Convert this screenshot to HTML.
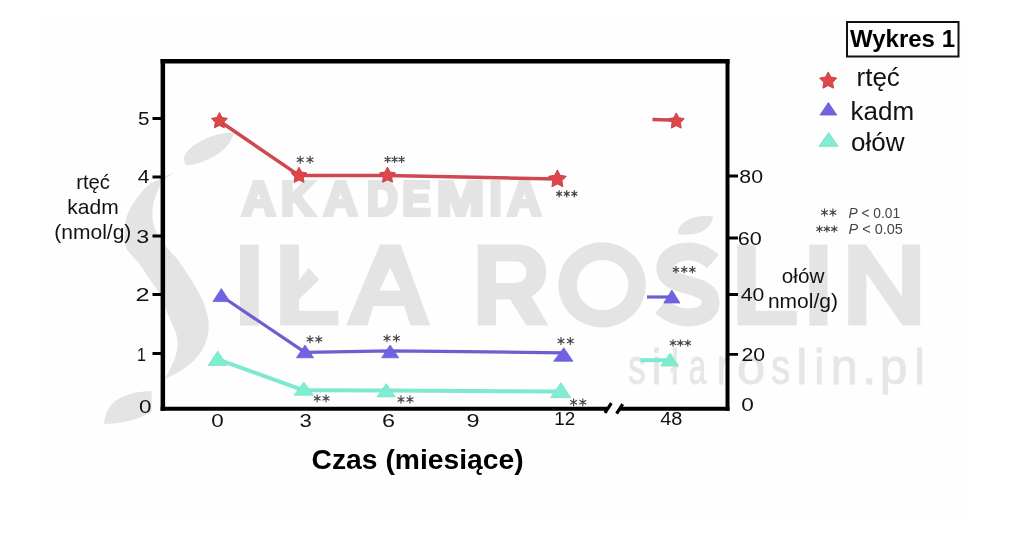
<!DOCTYPE html>
<html><head><meta charset="utf-8">
<style>
html,body{margin:0;padding:0;background:#fff;}
body{width:1024px;height:556px;overflow:hidden;font-family:"Liberation Sans",sans-serif;}
svg{display:block;}
text{font-family:"Liberation Sans",sans-serif;}
</style></head><body>
<svg width="1024" height="556" viewBox="0 0 1024 556">
<defs><filter id="nf" filterUnits="userSpaceOnUse" x="0" y="0" width="1024" height="556" color-interpolation-filters="sRGB"><feGaussianBlur stdDeviation="0.55"/></filter></defs>
<g filter="url(#nf)">
<rect width="1024" height="556" fill="#fff"/>
<rect x="41" y="21" width="922" height="498" fill="#fefefe"/>
<!-- watermark -->
<g id="wm" fill="#e4e4e4">
  <path d="M233.4,133.0 C231.6,133.1 226.9,132.6 222.5,133.4 C218.1,134.2 212.2,135.7 207.0,138.0 C201.8,140.3 194.8,144.3 191.0,147.5 C187.2,150.7 185.1,154.0 184.2,157.0 C183.3,160.0 185.5,164.1 185.8,165.5 C188.0,165.1 194.2,164.6 199.0,163.0 C203.8,161.4 210.0,158.8 214.7,156.0 C219.4,153.2 224.0,149.2 227.0,146.0 C230.0,142.8 231.6,138.8 232.7,136.6 C233.8,134.4 233.3,133.6 233.4,133.0 Z"/>
  <path d="M175.0,172.0 C172.8,173.0 166.7,175.6 162.0,178.0 C157.3,180.4 152.2,181.8 147.0,186.6 C141.8,191.4 134.7,200.5 131.0,207.0 C127.3,213.5 125.9,218.9 125.0,225.6 C124.1,232.3 123.5,240.7 125.8,247.0 C128.1,253.3 134.7,257.6 139.0,263.4 C143.3,269.2 148.1,276.8 151.6,282.0 C155.1,287.2 157.4,289.7 160.0,294.7 C162.6,299.7 164.8,306.6 167.0,312.0 C169.2,317.4 171.8,323.1 173.4,327.0 C175.0,330.9 175.9,332.1 176.6,335.6 C177.2,339.1 177.8,343.6 177.3,348.0 C176.8,352.4 175.5,356.9 173.4,362.0 C171.3,367.1 166.4,375.8 165.0,378.5 C166.7,377.8 171.0,376.2 175.0,374.0 C179.0,371.8 184.6,368.8 189.0,365.0 C193.4,361.2 198.5,355.9 201.6,351.0 C204.7,346.1 206.6,340.4 207.8,335.6 C209.0,330.8 208.7,325.7 208.6,322.0 C208.5,318.3 208.2,317.4 207.0,313.4 C205.8,309.4 204.2,303.7 201.5,298.0 C198.8,292.3 194.5,285.3 190.6,279.0 C186.7,272.7 182.2,265.5 178.0,260.0 C173.8,254.5 169.3,250.9 165.6,246.0 C161.8,241.1 157.7,235.5 155.5,230.3 C153.3,225.1 152.4,219.9 152.3,214.7 C152.2,209.5 153.0,204.4 154.7,199.0 C156.4,193.6 159.1,186.5 162.5,182.0 C165.9,177.5 172.9,173.7 175.0,172.0 Z"/>
  <path d="M104,424 C105,410 112,402 122,397 C131,393 141,391 151.6,391 L151.6,412 C140,419 122,424 104,424 Z"/>
  <g font-weight="bold" stroke="#e4e4e4" stroke-width="4" stroke-linejoin="miter">
<text transform="translate(241.69,215.3) scale(0.958,1)" font-size="48.7" >A</text>
<text transform="translate(280.90,215.3) scale(0.955,1)" font-size="48.7" >K</text>
<text transform="translate(323.69,215.3) scale(0.958,1)" font-size="48.7" >A</text>
<text transform="translate(366.88,215.3) scale(0.877,1)" font-size="48.7" >D</text>
<text transform="translate(402.29,215.3) scale(0.874,1)" font-size="48.7" >E</text>
<text transform="translate(436.78,215.3) scale(1.167,1)" font-size="48.7" >M</text>
<text transform="translate(489.56,215.3) scale(0.904,1)" font-size="48.7" >I</text>
<text transform="translate(507.59,215.3) scale(0.958,1)" font-size="48.7" >A</text>
  </g>
  <rect x="240" y="244.6" width="18.8" height="81.00000000000003"/>
  <path d="M280.2,244.6 H298.9 V280.5 L308.5,268 L319.3,279.5 L298.9,299.5 V310.8 H338.4 V325.6 H280.2 Z"/>
  <path fill-rule="evenodd" d="M346,325.6 L380,244.6 L400.6,244.6 L430.2,325.6 L410.3,325.6 L404.2,306 L373.5,306 L367.4,325.6 Z M390.2,267.5 L400.6,290.4 L379.6,290.4 Z"/>
  <path fill-rule="evenodd" d="M477.7,244.6 H519.5 A27.5,27.5 0 0 1 531.5,296.5 L548.5,325.6 H526.5 L510,299.5 H495.9 V325.6 H477.7 Z M495.9,261.4 H515.7 A10.8,10.8 0 0 1 515.7,283 H495.9 Z"/>
  <path fill-rule="evenodd" d="M558.3,284.9 a43.8,42.5 0 1 0 87.6,0 a43.8,42.5 0 1 0 -87.6,0 Z M576.8,285 a25.8,25.1 0 1 0 51.6,0 a25.8,25.1 0 1 0 -51.6,0 Z"/>
  <path d="M713,216.5 C694,214 677,222 678,234 C696,237 712,230 713,216.5 Z"/>
  <path d="M737.4,244.6 H755.7 V310.8 H796.7 V325.6 H737.4 Z"/>
  <rect x="809.3" y="244.6" width="18.2" height="81.00000000000003"/>
  <path d="M848.2,325.6 V244.6 H866 L902,296.5 V244.6 H920.2 V325.6 H902.6 L866.4,273.5 V325.6 Z"/>
</g>
<path d="M713,261.5 C705,254.5 697,251.6 689,251.6 C674,251.6 665.3,258.5 665.3,268 C665.3,278 674,281.3 688,285 C702,288.7 710.6,292.5 710.6,302 C710.6,311.5 702,317.4 688,317.4 C677.5,317.4 669,313.5 661,306.5" fill="none" stroke="#e4e4e4" stroke-width="18"/>
<g fill="#e6e6e6" stroke="#e6e6e6" stroke-width="0.9">
<text transform="translate(628.37,384.2) scale(0.703,1)" font-size="49.5" >s</text>
<text transform="translate(651.71,384.2) scale(0.866,1)" font-size="49.5" >i</text>
<text transform="translate(670.83,384.2) scale(0.725,1)" font-size="49.5" >ł</text>
<text transform="translate(688.81,384.2) scale(0.632,1)" font-size="49.5" >a</text>
<text transform="translate(716.97,384.2) scale(0.769,1)" font-size="49.5" >r</text>
<text transform="translate(736.88,384.2) scale(1.025,1)" font-size="49.5" >o</text>
<text transform="translate(771.35,384.2) scale(0.767,1)" font-size="49.5" >s</text>
<text transform="translate(796.42,384.2) scale(0.975,1)" font-size="49.5" >l</text>
<text transform="translate(814.21,384.2) scale(0.902,1)" font-size="49.5" >i</text>
<text transform="translate(830.73,384.2) scale(0.971,1)" font-size="49.5" >n</text>
<text transform="translate(861.97,384.2) scale(1.061,1)" font-size="49.5" >.</text>
<text transform="translate(879.84,384.2) scale(1.007,1)" font-size="49.5" >p</text>
<text transform="translate(914.32,384.2) scale(0.975,1)" font-size="49.5" >l</text>
</g>

<!-- axes -->
<g stroke="#000" fill="none" stroke-linecap="butt" stroke-linejoin="miter">
  <path d="M607,408.8 H160.6" stroke-width="4"/>
  <path d="M162.85,410.7 V58.9" stroke-width="4.5"/>
  <path d="M160.6,61.15 H729.5" stroke-width="4.5"/>
  <path d="M727.5,58.9 V410.7" stroke-width="4"/>
  <path d="M729.5,408.8 H620" stroke-width="4"/>
</g>
<g stroke="#000" stroke-width="3" fill="none">
  <path d="M604.9,412.9 L611.4,403.2 M616.6,413.7 L622.7,404.2" stroke-width="3.2"/>
  <path d="M152.5,118.5H162 M152.5,177H162 M152.5,236H162 M152.5,294.5H162 M152.5,353.6H162"/>
  <path d="M729,176H738 M729,238H738 M729,294.5H738 M729,354.3H738" stroke-width="2.8"/>
</g>

<!-- tick labels -->
<g fill="#111">
  <text transform="translate(137.95,124.6) scale(1.116,1)" font-size="18.5" >5</text>
  <text transform="translate(137.67,183.4) scale(1.143,1)" font-size="18.5" >4</text>
  <text transform="translate(136.27,242.5) scale(1.261,1)" font-size="18.5" >3</text>
  <text transform="translate(135.51,300.8) scale(1.372,1)" font-size="18.5" >2</text>
  <text transform="translate(136.99,360.8) scale(0.871,1)" font-size="18.5" >1</text>
  <text transform="translate(139.10,413) scale(1.211,1)" font-size="18.5" >0</text>
  <text transform="translate(211.30,427) scale(1.211,1)" font-size="18.5" >0</text>
  <text transform="translate(299.61,427) scale(1.194,1)" font-size="18.5" >3</text>
  <text transform="translate(382.10,427) scale(1.268,1)" font-size="18.5" >6</text>
  <text transform="translate(466.40,427) scale(1.268,1)" font-size="18.5" >9</text>
  <text transform="translate(554.32,425.2) scale(1.018,1)" font-size="18.5" >12</text>
  <text transform="translate(660.19,425.2) scale(1.075,1)" font-size="18.5" >48</text>
  <text transform="translate(739.33,183.2) scale(1.152,1)" font-size="18.5" >80</text>
  <text transform="translate(737.79,245.3) scale(1.169,1)" font-size="18.5" >60</text>
  <text transform="translate(740.67,301) scale(1.145,1)" font-size="18.5" >40</text>
  <text transform="translate(741.50,360.6) scale(1.148,1)" font-size="18.5" >20</text>
  <text transform="translate(741.29,411) scale(1.222,1)" font-size="18.5" >0</text>
</g>

<!-- axis labels -->
<g fill="#111" text-anchor="middle">
  <text x="93.1" y="188.8" font-size="20.3">rtęć</text>
  <text x="93" y="213.8" font-size="21">kadm</text>
  <text x="92.8" y="238.8" font-size="21">(nmol/g)</text>
  <text x="803.1" y="282.5" font-size="20.7">ołów</text>
  <text x="802.9" y="307.5" font-size="21">nmol/g)</text>
</g>
<text x="311.6" y="469" font-size="27" font-weight="bold" fill="#000" textLength="212" lengthAdjust="spacingAndGlyphs">Czas (miesiące)</text>

<!-- series -->
<defs>
  <path id="star" d="M0.00,-8.40 L2.59,-3.56 L7.99,-2.60 L4.18,1.36 L4.94,6.80 L0.00,4.40 L-4.94,6.80 L-4.18,1.36 L-7.99,-2.60 L-2.59,-3.56 Z" stroke-width="1" stroke-linejoin="round"/>
  <path id="starB" d="M0.00,-9.30 L2.82,-3.88 L8.84,-2.87 L4.57,1.48 L5.47,7.52 L0.00,4.80 L-5.47,7.52 L-4.57,1.48 L-8.84,-2.87 L-2.82,-3.88 Z" stroke-width="1" stroke-linejoin="round"/>
  <path id="starL" d="M0.00,-9.00 L2.76,-3.80 L8.56,-2.78 L4.47,1.45 L5.29,7.28 L0.00,4.70 L-5.29,7.28 L-4.47,1.45 L-8.56,-2.78 L-2.76,-3.80 Z" stroke-width="1" stroke-linejoin="round"/>
</defs>
<g stroke="#cf4750" stroke-width="3.5" fill="none" stroke-linejoin="round">
  <path d="M219.4,121 L299,175.4 L387.5,175.4 L557.4,179"/>
  <path d="M652.5,119.6 L676,120.2"/>
</g>
<g fill="#e04648" stroke="#c4454e">
  <use href="#star" x="219.4" y="121"/><use href="#star" x="299" y="175.6"/><use href="#star" x="387.5" y="175.5"/><use href="#starB" x="557.4" y="179.2"/><use href="#star" x="676.25" y="121.3"/>
</g>
<g stroke="#6c5fd0" stroke-width="3.2" fill="none" stroke-linejoin="round">
  <path d="M221.3,296 L305,352.4 L390.2,350.8 L563.7,352.8"/>
  <path d="M647,297 L672,297"/>
</g>
<g fill="#6f63e4" stroke="#6459cc" stroke-width="0.7">
  <path d="M221.35000000000002,288.6 L229.8,301.6 L212.9,301.6 Z"/>
  <path d="M305.0,345 L313.6,357.8 L296.4,357.8 Z"/>
  <path d="M390.175,345 L398.75,357.8 L381.6,357.8 Z"/>
  <path d="M563.75,347.7 L573,361.25 L553.6,361.25 Z"/>
  <path d="M671.875,290 L680,303 L663.75,303 Z"/>
</g>
<g stroke="#7de9ce" stroke-width="4" fill="none" stroke-linejoin="round">
  <path d="M218,359.3 L303.75,390.3 L386.25,390.6 L561,391.5"/>
  <path d="M640.5,360.2 L670,360.2"/>
</g>
<g fill="#7deed2" stroke="#84dcc6" stroke-width="0.7">
  <path d="M217.8,351 L227,365.5 L208,365.5 Z"/>
  <path d="M303.75,382 L313.6,395.3 L294,395.3 Z"/>
  <path d="M386.25,383.6 L395.6,396.9 L376.9,396.9 Z"/>
  <path d="M561,382.5 L570.8,397.7 L550.5,397.7 Z"/>
  <path d="M670.3,353 L678,366 L660.6,366 Z"/>
</g>

<!-- asterisks -->
<g stroke="#444" fill="none" stroke-linecap="butt">
<path d="M300.2,155.7 V163.7 M296.74,157.70 L303.66,161.70 M296.74,161.70 L303.66,157.70" stroke-width="1.15"/>
<path d="M310.0,155.7 V163.7 M306.54,157.70 L313.46,161.70 M306.54,161.70 L313.46,157.70" stroke-width="1.15"/>
<path d="M387.6,156.0 V163.0 M384.57,157.75 L390.63,161.25 M384.57,161.25 L390.63,157.75" stroke-width="1.15"/>
<path d="M394.6,156.0 V163.0 M391.57,157.75 L397.63,161.25 M391.57,161.25 L397.63,157.75" stroke-width="1.15"/>
<path d="M401.6,156.0 V163.0 M398.57,157.75 L404.63,161.25 M398.57,161.25 L404.63,157.75" stroke-width="1.15"/>
<path d="M559.1,190.35 V197.15 M556.16,192.05 L562.04,195.45 M556.16,195.45 L562.04,192.05" stroke-width="1.25"/>
<path d="M566.75,190.35 V197.15 M563.81,192.05 L569.69,195.45 M563.81,195.45 L569.69,192.05" stroke-width="1.25"/>
<path d="M574.4,190.35 V197.15 M571.46,192.05 L577.34,195.45 M571.46,195.45 L577.34,192.05" stroke-width="1.25"/>
<path d="M310.0,335.5 V343.29999999999995 M306.62,337.45 L313.38,341.35 M306.62,341.35 L313.38,337.45" stroke-width="1.15"/>
<path d="M318.75,335.5 V343.29999999999995 M315.37,337.45 L322.13,341.35 M315.37,341.35 L322.13,337.45" stroke-width="1.15"/>
<path d="M387.0,334.40000000000003 V342.2 M383.62,336.35 L390.38,340.25 M383.62,340.25 L390.38,336.35" stroke-width="1.15"/>
<path d="M396.4,334.40000000000003 V342.2 M393.02,336.35 L399.78,340.25 M393.02,340.25 L399.78,336.35" stroke-width="1.15"/>
<path d="M561.0,337.1 V344.9 M557.62,339.05 L564.38,342.95 M557.62,342.95 L564.38,339.05" stroke-width="1.15"/>
<path d="M570.3,337.1 V344.9 M566.92,339.05 L573.68,342.95 M566.92,342.95 L573.68,339.05" stroke-width="1.15"/>
<path d="M676.0,266.09999999999997 V273.3 M672.88,267.90 L679.12,271.50 M672.88,271.50 L679.12,267.90" stroke-width="1.15"/>
<path d="M684.2,266.09999999999997 V273.3 M681.08,267.90 L687.32,271.50 M681.08,271.50 L687.32,267.90" stroke-width="1.15"/>
<path d="M692.4,266.09999999999997 V273.3 M689.28,267.90 L695.52,271.50 M689.28,271.50 L695.52,267.90" stroke-width="1.15"/>
<path d="M673.0,339.4 V346.6 M669.88,341.20 L676.12,344.80 M669.88,344.80 L676.12,341.20" stroke-width="1.15"/>
<path d="M680.4,339.4 V346.6 M677.28,341.20 L683.52,344.80 M677.28,344.80 L683.52,341.20" stroke-width="1.15"/>
<path d="M687.8,339.4 V346.6 M684.68,341.20 L690.92,344.80 M684.68,344.80 L690.92,341.20" stroke-width="1.15"/>
<path d="M317.2,394.5 V402.29999999999995 M313.82,396.45 L320.58,400.35 M313.82,400.35 L320.58,396.45" stroke-width="1.15"/>
<path d="M326.0,394.5 V402.29999999999995 M322.62,396.45 L329.38,400.35 M322.62,400.35 L329.38,396.45" stroke-width="1.15"/>
<path d="M401.0,395.6 V403.4 M397.62,397.55 L404.38,401.45 M397.62,401.45 L404.38,397.55" stroke-width="1.15"/>
<path d="M410.0,395.6 V403.4 M406.62,397.55 L413.38,401.45 M406.62,401.45 L413.38,397.55" stroke-width="1.15"/>
<path d="M573.6,398.40000000000003 V406.2 M570.22,400.35 L576.98,404.25 M570.22,404.25 L576.98,400.35" stroke-width="1.15"/>
<path d="M582.8,398.40000000000003 V406.2 M579.42,400.35 L586.18,404.25 M579.42,404.25 L586.18,400.35" stroke-width="1.15"/>
<path d="M824.5,208.6 V216.4 M821.12,210.55 L827.88,214.45 M821.12,214.45 L827.88,210.55" stroke-width="1.15"/>
<path d="M832.9,208.6 V216.4 M829.52,210.55 L836.28,214.45 M829.52,214.45 L836.28,210.55" stroke-width="1.15"/>
<path d="M819.5,225.4 V232.6 M816.38,227.20 L822.62,230.80 M816.38,230.80 L822.62,227.20" stroke-width="1.15"/>
<path d="M826.9,225.4 V232.6 M823.78,227.20 L830.02,230.80 M823.78,230.80 L830.02,227.20" stroke-width="1.15"/>
<path d="M834.3,225.4 V232.6 M831.18,227.20 L837.42,230.80 M831.18,230.80 L837.42,227.20" stroke-width="1.15"/>
</g>

<!-- legend -->
<rect x="847" y="22" width="111.5" height="34.5" fill="#fff" stroke="#111" stroke-width="2"/>
<text x="902.5" y="47" font-size="24" font-weight="bold" fill="#000" text-anchor="middle">Wykres 1</text>
<use href="#starL" x="828.2" y="80.9" fill="#e04648" stroke="#c4454e"/>
<g fill="#6f63e4" stroke="#6459cc" stroke-width="0.8"><path d="M828.4,102.6 L836.8,115 L820,115 Z"/></g>
<g fill="#7deed2" stroke="#84dcc6" stroke-width="0.9"><path d="M828.6,132.6 L838.2,146.3 L819,146.3 Z"/></g>
<g font-size="26" fill="#111">
  <text x="856.5" y="85.5">rtęć</text>
  <text x="850.5" y="119.5">kadm</text>
  <text x="851" y="150.5">ołów</text>
</g>
<g font-size="14.5" fill="#444">
  <text x="848.5" y="218" textLength="51.6" lengthAdjust="spacingAndGlyphs"><tspan font-style="italic">P</tspan> &lt; 0.01</text>
  <text x="848.5" y="234.3"><tspan font-style="italic">P</tspan> &lt; 0.05</text>
</g>
</g>
</svg>
</body></html>
